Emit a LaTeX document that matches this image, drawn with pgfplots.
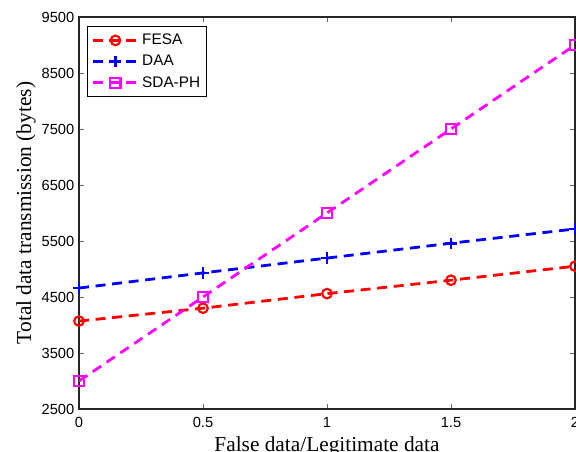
\documentclass[border=0pt]{standalone}
\usepackage{fontspec}
\setmainfont{Liberation Sans}
\newfontfamily\timesfont{Liberation Serif}
\usepackage{pgfplots}
\pgfplotsset{compat=1.18}
\definecolor{mred}{rgb}{1,0,0}
\definecolor{mblue}{rgb}{0,0,1}
\definecolor{mmag}{rgb}{1,0,1}

% 1 px of the reference = 0.75pt
\begin{document}
\begin{tikzpicture}
\useasboundingbox (-59.25pt,-32.25pt) rectangle (372.75pt,306.75pt);
\clip (-59.25pt,-32.25pt) rectangle (372.75pt,306.75pt);
\begin{axis}[
  at={(0pt,0pt)}, anchor=south west,
  scale only axis, width=372pt, height=294pt,
  xmin=0, xmax=2, ymin=2500, ymax=9500,
  xtick={0,0.5,1,1.5,2},
  ytick={2500,3500,4500,5500,6500,7500,8500,9500},
  scaled ticks=false,
  /pgf/number format/1000 sep={},
  /pgf/number format/assume math mode=true,
  tick label style={font=\fontsize{11}{13}\selectfont},
  xticklabel style={yshift=-3pt},
  tick align=inside,
  major tick length=4pt,
  tick style={gray!80!black, line width=0.6pt},
  axis line style={line width=0.9pt, black!85},
  xlabel={False data/Legitimate data},
  ylabel={Total data transmission (bytes)},
  label style={font=\timesfont\fontsize{16}{18}\selectfont},
  xlabel style={at={(axis description cs:0.5,0)}, anchor=north, yshift=-17pt},
  ylabel style={at={(axis description cs:0,0.5)}, anchor=south, yshift=29pt},
  legend style={at={(0.016,0.977)}, anchor=north west,
    font=\fontsize{11.5}{13}\selectfont, draw=black, line width=0.7pt,
    inner xsep=3pt, inner ysep=2.5pt,
    nodes={inner ysep=3.2pt}},
  legend cell align=left,
  legend image code/.code={%
    \draw[#1] (0pt,0pt) -- (34pt,0pt);
    \draw[#1, mark repeat=1] plot coordinates {(17pt,0pt)};},
  every axis plot/.append style={line width=2.1pt, dash pattern=on 7.5pt off 5pt},
]
\addplot[color=mred, mark=o, mark size=3.6pt, mark options={solid, line width=1.6pt}] coordinates {
(0,4070) (0.5,4300) (1,4560) (1.5,4800) (2,5050)
};
\addlegendentry{FESA}
\addplot[color=mblue, mark=+, mark size=4.3pt, mark options={solid, line width=1.9pt}] coordinates {
(0,4660) (0.5,4930) (1,5195) (1.5,5460) (2,5715)
};
\addlegendentry{DAA}
\addplot[color=mmag, mark=square, mark size=3.8pt, mark options={solid, line width=1.6pt}] coordinates {
(0,3000) (0.5,4500) (1,6000) (1.5,7500) (2,9000)
};
\addlegendentry{SDA-PH}
\end{axis}
\end{tikzpicture}
\end{document}
